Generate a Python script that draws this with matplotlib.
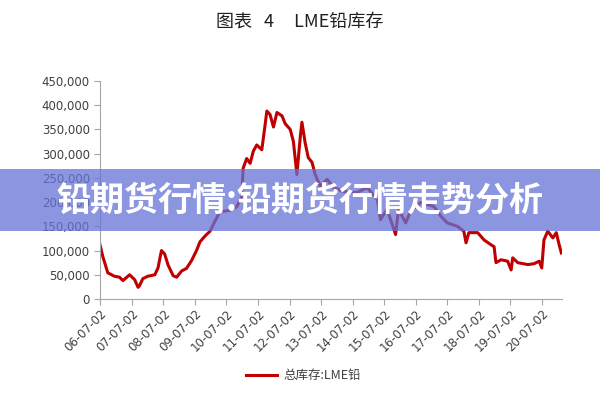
import numpy as np
import pandas as pd
import matplotlib
matplotlib.use("Agg")
from matplotlib import pyplot as plt
from matplotlib.patches import Rectangle

plt.rcParams['font.family'] = ['Noto Sans CJK SC', 'DejaVu Sans']

# time as decimal year, LME lead stocks (tonnes)
years = [2006.48, 2006.58, 2006.74, 2006.95, 2007.11, 2007.22, 2007.43, 2007.59, 2007.70,
         2007.75, 2007.85, 2008.01, 2008.23, 2008.33, 2008.44, 2008.54, 2008.65, 2008.81,
         2008.92, 2009.08, 2009.23, 2009.39, 2009.55, 2009.66, 2009.82, 2009.98, 2010.13,
         2010.29, 2010.61, 2010.82, 2010.98, 2011.03, 2011.14, 2011.25, 2011.35, 2011.46,
         2011.62, 2011.72, 2011.78, 2011.88, 2011.99, 2012.10, 2012.26, 2012.36, 2012.52,
         2012.62, 2012.73, 2012.84, 2012.89, 2012.99, 2013.09, 2013.21, 2013.31, 2013.47,
         2013.69, 2013.89, 2014.20, 2014.64, 2014.96, 2015.28, 2015.38, 2015.59, 2015.86,
         2015.95, 2016.18, 2016.33, 2016.65, 2017.07, 2017.29, 2017.50, 2017.82, 2018.02,
         2018.09, 2018.18, 2018.46, 2018.66, 2018.88, 2018.98, 2019.04, 2019.20, 2019.41,
         2019.52, 2019.57, 2019.73, 2020.05, 2020.25, 2020.41, 2020.49, 2020.56, 2020.68,
         2020.84, 2020.95, 2021.04, 2021.11]
stock = [115000, 88000, 54000, 47000, 45000, 38000, 50000, 40000, 24000,
         28000, 42000, 47000, 50000, 64000, 100000, 93000, 70000, 48000,
         45000, 58000, 63000, 79000, 100000, 118000, 130000, 140000, 160000,
         180000, 183000, 190000, 210000, 270000, 290000, 280000, 305000, 318000,
         308000, 357000, 388000, 381000, 355000, 385000, 378000, 362000, 350000,
         325000, 257000, 336000, 365000, 323000, 292000, 282000, 257000, 233000,
         247000, 230000, 222000, 220000, 230000, 205000, 164000, 185000, 133000,
         185000, 157000, 181000, 199000, 191000, 171000, 157000, 150000, 140000,
         116000, 137000, 137000, 122000, 112000, 108000, 75000, 81000, 78000,
         60000, 85000, 75000, 71000, 73000, 78000, 64000, 122000, 140000,
         126000, 137000, 112000, 95000]
tick_labels = ['%02d-07-02' % y for y in range(6, 21)]


def to_date(y):
    yr = int(y)
    start = pd.Timestamp(yr, 1, 1)
    return start + (pd.Timestamp(yr + 1, 1, 1) - start) * (y - yr)


dates = [to_date(y) for y in years]
tick_dates = [pd.Timestamp(2000 + y, 7, 2) for y in range(6, 21)]

fig = plt.figure(figsize=(6, 4), dpi=100)
ax = fig.add_axes([0.167, 0.2525, 0.77, 0.545])

ax.plot(dates, stock, color='#c00000', lw=2.2, label='总库存:LME铅')

ax.set_ylim(0, 450000)
ax.set_yticks(np.arange(0, 450001, 50000))
ax.yaxis.set_major_formatter(matplotlib.ticker.FuncFormatter(lambda v, p: f'{int(v):,}'))
ax.set_xlim(pd.Timestamp(2006, 7, 2), pd.Timestamp(2021, 2, 20))
ax.set_xticks(tick_dates)
ax.set_xticklabels(tick_labels, rotation=45, ha='right', rotation_mode='anchor',
                   family='DejaVu Sans')
for lbl in ax.get_yticklabels():
    lbl.set_family('DejaVu Sans')

for s in ['top', 'right']:
    ax.spines[s].set_visible(False)
for s in ['left', 'bottom']:
    ax.spines[s].set_color('#a6a6a6')
ax.tick_params(colors='#a6a6a6', labelcolor='#404040', labelsize=8.5, length=4)
ax.tick_params(axis='x', pad=2)

fig.text(0.5, 0.945, '图表   4     LME铅库存', ha='center', va='center', fontsize=13,
         color='#202020')

ax.legend(loc='upper center', bbox_to_anchor=(0.44, -0.27), frameon=False,
          fontsize=9, handlelength=2.5, handletextpad=0.5, labelcolor='#404040')

# overlay banner
fig.patches.append(Rectangle((0, 1 - 231 / 400), 1, 62 / 400, transform=fig.transFigure,
                             facecolor=(0.40, 0.45, 0.84), alpha=0.75, edgecolor='none',
                             zorder=5))
fig.text(0.5, 1 - 200 / 400, '铅期货行情:铅期货行情走势分析', ha='center', va='center',
         fontsize=24.5, fontweight='bold', color='white', zorder=6)

fig.savefig('out.png', dpi=100)
